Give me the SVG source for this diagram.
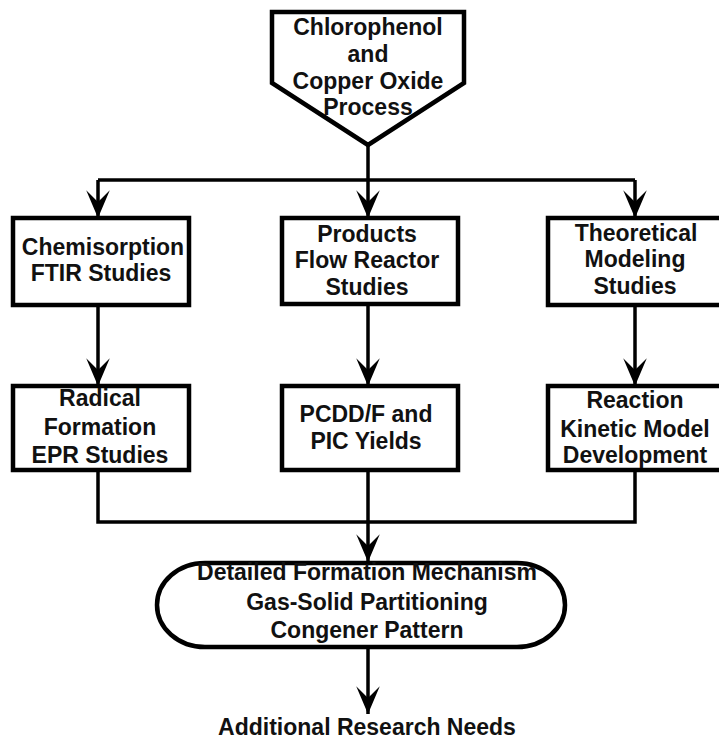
<svg xmlns="http://www.w3.org/2000/svg" width="719" height="742" viewBox="0 0 719 742">
<defs>
<style>
.box{fill:#fff;stroke:#000;stroke-width:4.5}
.ln{fill:none;stroke:#000;stroke-width:3.5}
.t{font-family:"Liberation Sans",Arial,sans-serif;font-weight:bold;font-size:23px;fill:#111;text-anchor:middle}
</style>
<marker id="ah" markerUnits="userSpaceOnUse" orient="auto" markerWidth="30" markerHeight="30" refX="0" refY="0" viewBox="-26 -13 28 26" overflow="visible">
<path d="M0,0 L-26,-11 L-15,0 L-26,11 Z" fill="#000"/>
</marker>
</defs>
<rect width="719" height="742" fill="#fff"/>
<g id="connectors">
<path class="ln" d="M368,145 V180"/>
<path class="ln" d="M98,180 H635"/>
<path class="ln" d="M98,180 V218" marker-end="url(#ah)"/>
<path class="ln" d="M368,180 V218" marker-end="url(#ah)"/>
<path class="ln" d="M635,180 V218" marker-end="url(#ah)"/>
<path class="ln" d="M98,305 V386" marker-end="url(#ah)"/>
<path class="ln" d="M368,304 V386" marker-end="url(#ah)"/>
<path class="ln" d="M635,305 V386" marker-end="url(#ah)"/>
<path class="ln" d="M98,470 V522 H635 V470"/>
<path class="ln" d="M368,470 V522"/>
<path class="ln" d="M368,522 V562" marker-end="url(#ah)"/>
<path class="ln" d="M368,647 V714" marker-end="url(#ah)"/>
</g>
<g id="start">
<path class="box" d="M272,12 H464 V83 L368,145 L272,83 Z"/>
<text class="t" x="368" y="35">Chlorophenol</text>
<text class="t" x="368" y="62">and</text>
<text class="t" x="368" y="89">Copper Oxide</text>
<text class="t" x="368" y="115">Process</text>
</g>
<g id="chemisorption">
<rect class="box" x="13" y="218" width="176" height="87"/>
<text class="t" x="103" y="255">Chemisorption</text>
<text class="t" x="101" y="281">FTIR Studies</text>
</g>
<g id="products">
<rect class="box" x="282" y="218" width="176" height="86"/>
<text class="t" x="367" y="242">Products</text>
<text class="t" x="367" y="268">Flow Reactor</text>
<text class="t" x="367" y="295">Studies</text>
</g>
<g id="theoretical">
<rect class="box" x="548" y="218" width="176" height="87"/>
<text class="t" x="636" y="241">Theoretical</text>
<text class="t" x="635" y="267">Modeling</text>
<text class="t" x="635" y="294">Studies</text>
</g>
<g id="radical">
<rect class="box" x="13" y="386" width="176" height="84"/>
<text class="t" x="100" y="406">Radical</text>
<text class="t" x="100" y="435">Formation</text>
<text class="t" x="100" y="463">EPR Studies</text>
</g>
<g id="pcdd">
<rect class="box" x="282" y="386" width="176" height="84"/>
<text class="t" x="366" y="422">PCDD/F and</text>
<text class="t" x="366" y="449">PIC Yields</text>
</g>
<g id="reaction">
<rect class="box" x="548" y="386" width="176" height="84"/>
<text class="t" x="635" y="408">Reaction</text>
<text class="t" x="635" y="437">Kinetic Model</text>
<text class="t" x="635" y="463">Development</text>
</g>
<g id="mechanism">
<rect class="box" x="157" y="563" width="408" height="84" rx="48" ry="42"/>
<text class="t" x="367" y="580">Detailed Formation Mechanism</text>
<text class="t" x="367" y="610">Gas-Solid Partitioning</text>
<text class="t" x="367" y="638">Congener Pattern</text>
</g>
<g id="needs">
<text class="t" x="367" y="735">Additional Research Needs</text>
</g>
</svg>
